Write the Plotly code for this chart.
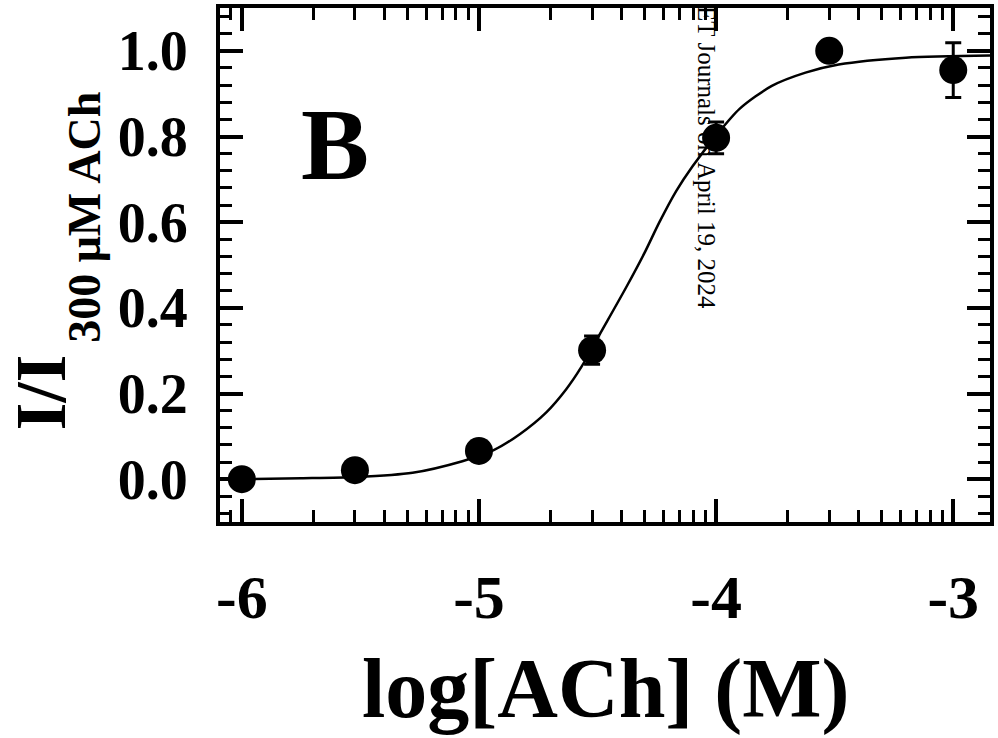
import numpy as np
import plotly.graph_objects as go

# ---- data ----
log_ach = [-6.0, -5.523, -5.0, -4.523, -4.0, -3.523, -3.0]
response = [0.0, 0.021, 0.066, 0.301, 0.797, 1.0, 0.955]
response_err = [0.005, 0.01, 0.01, 0.033, 0.037, 0.01, 0.064]

fit_x = [-6.0, -5.75, -5.52, -5.28, -5.07, -4.94, -4.828, -4.716, -4.632, -4.568, -4.492, -4.379,
         -4.303, -4.239, -4.169, -4.10, -4.0, -3.90, -3.765, -3.623, -3.483, -3.20, -2.845]
fit_y = [0.0, 0.002, 0.005, 0.015, 0.042, 0.067, 0.105, 0.156, 0.210, 0.262, 0.337, 0.448,
         0.527, 0.600, 0.672, 0.730, 0.802, 0.865, 0.918, 0.949, 0.968, 0.984, 0.989]

x_major_ticks = [-6, -5, -4, -3]
x_tick_labels = ["-6", "-5", "-4", "-3"]
y_major_ticks = [0.0, 0.2, 0.4, 0.6, 0.8, 1.0]
y_tick_labels = ["0.0", "0.2", "0.4", "0.6", "0.8", "1.0"]

# ---- layout helpers ----
W, H = 998, 738
L, R, T, B = 220, 6, 4, 216
PW, PH = W - L - R, H - T - B


def px(xp):
    return (xp - L) / PW


def py(yp):
    return (H - B - yp) / PH


FONT = "Liberation Serif"
minor_x = [d + np.log10(k) for d in range(-7, -2) for k in range(2, 10)]

fig = go.Figure()
fig.add_trace(go.Scatter(x=fit_x, y=fit_y, mode="lines",
                         line=dict(color="black", width=2.5, shape="spline", smoothing=0.8),
                         hoverinfo="skip", showlegend=False))
fig.add_trace(go.Scatter(x=log_ach, y=response, mode="markers",
                         marker=dict(color="black", size=28),
                         error_y=dict(type="data", array=response_err, color="black", thickness=3, width=8),
                         showlegend=False))

axis_common = dict(showgrid=False, zeroline=False, showline=True, linecolor="black", linewidth=4,
                   mirror="ticks", ticks="inside", tickcolor="black", tickwidth=3.5, ticklen=23)

fig.update_xaxes(range=[-6.092, -2.845], tickvals=x_major_ticks, ticktext=x_tick_labels,
                 tickfont=dict(family=FONT, size=62, color="black", weight="bold"),
                 ticklabelstandoff=18,
                 minor=dict(tickvals=minor_x, ticks="inside", ticklen=12, tickwidth=3, tickcolor="black"),
                 **axis_common)
fig.update_yaxes(range=[-0.1, 1.1], tickvals=y_major_ticks, ticktext=y_tick_labels,
                 tickfont=dict(family=FONT, size=56, color="black", weight="bold"),
                 ticklabelstandoff=17,
                 minor=dict(dtick=0.04, tick0=0, ticks="inside", ticklen=12, tickwidth=3, tickcolor="black"),
                 **axis_common)

annotations = [
    dict(text="log[ACh] (M)", x=px(607), y=py(690), font=dict(family=FONT, size=84, color="black", weight="bold")),
    dict(text="I/I", x=px(41), y=py(391), textangle=-90, font=dict(family=FONT, size=72, color="black", weight="bold")),
    dict(text="300 μM ACh", x=px(84), y=py(215), textangle=-90,
         font=dict(family=FONT, size=46, color="black", weight="bold")),
    dict(text="B", x=px(335), y=py(142), font=dict(family=FONT, size=102, color="black", weight="bold")),
    dict(text="ET Journals on April 19, 2024", x=px(707), y=py(155), textangle=90,
         font=dict(family=FONT, size=25, color="black")),
]
for a in annotations:
    fig.add_annotation(xref="paper", yref="paper", showarrow=False, xanchor="center", yanchor="middle", **a)

fig.update_layout(width=W, height=H, margin=dict(l=L, r=R, t=T, b=B),
                  paper_bgcolor="white", plot_bgcolor="white")

fig.write_html("out.html", config={"displayModeBar": False},
               post_script="document.body.style.margin='0';document.body.style.padding='0';")
